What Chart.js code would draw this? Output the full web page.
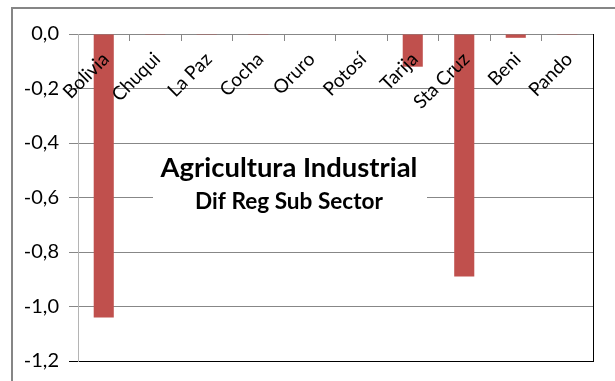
<!DOCTYPE html>
<html>
<head>
<meta charset="utf-8">
<script src="https://cdn.jsdelivr.net/npm/chart.js@4.4.0/dist/chart.umd.min.js"></script>
<style>
    html, body { margin: 0; padding: 0; background: #fff; }
    #wrap { position: relative; width: 615px; height: 381px; overflow: hidden; }
    #marco { position: absolute; left: 11px; top: 7px; width: 700px; height: 500px; border-left: 2px solid #868686; border-top: 2px solid #868686; }
    #myChart { position: absolute; left: 0; top: 0; }
</style>
</head>
<body>
<div id="wrap">
    <div id="marco"></div>
    <canvas id="myChart" width="615" height="381"></canvas>
</div>
<script>
// datos
const regiones = ['Bolivia', 'Chuqui', 'La Paz', 'Cocha', 'Oruro', 'Potosí', 'Tarija', 'Sta Cruz', 'Beni', 'Pando'];
const difRegional = [-1.04, -0.003, -0.003, -0.003, 0, 0, -0.12, -0.89, -0.014, -0.003];
const yMin = -1.2;
const yMax = 0;
const yPaso = 0.2;
const titulo = 'Agricultura Industrial';
const subtitulo = 'Dif Reg Sub Sector';

const fuente = 'Lato, "Open Sans", sans-serif';

// ajusta el tamaño de fuente para que el texto ocupe un ancho dado
function fuenteAjustada(ctx, texto, ancho, peso) {
    ctx.font = peso + ' 20px ' + fuente;
    let w = ctx.measureText(texto).width;
    return peso + ' ' + (20 * ancho / w).toFixed(1) + 'px ' + fuente;
}

const tituloPlugin = {
    id: 'tituloInterno',
    afterDraw: function(chart) {
        const ctx = chart.ctx;
        const area = chart.chartArea;
        ctx.save();
        // borde derecho negro del area de trazado
        ctx.strokeStyle = '#000';
        ctx.lineWidth = 1;
        ctx.beginPath();
        ctx.moveTo(Math.round(area.right) + 0.5, area.top);
        ctx.lineTo(Math.round(area.right) + 0.5, area.bottom + 1);
        ctx.stroke();
        // caja blanca del titulo
        ctx.fillStyle = '#fff';
        ctx.fillRect(153, 152, 274, 64);
        ctx.fillStyle = '#000';
        ctx.textAlign = 'center';
        ctx.textBaseline = 'alphabetic';
        ctx.font = fuenteAjustada(ctx, titulo, 257, 'bold');
        ctx.fillText(titulo, 289, 177);
        ctx.font = fuenteAjustada(ctx, subtitulo, 188, 'bold');
        ctx.fillText(subtitulo, 289, 209);
        ctx.restore();
    }
};

const data = {
    labels: regiones,
    datasets: [{
        label: 'Dif Reg Sub Sector',
        backgroundColor: '#C0504D',
        borderWidth: 0,
        data: difRegional,
        categoryPercentage: 1,
        barPercentage: 0.39
    }]
};

const config = {
    type: 'bar',
    data: data,
    options: {
        responsive: false,
        animation: false,
        layout: { padding: { top: 34, bottom: 20, left: 0, right: 22 } },
        plugins: {
            legend: { display: false },
            tooltip: { enabled: false }
        },
        scales: {
            x: {
                type: 'category',
                axis: 'x',
                position: { y: 0 },
                grid: {
                    offset: true,
                    drawOnChartArea: false,
                    drawTicks: true,
                    tickLength: 6,
                    color: '#878787'
                },
                border: { color: '#878787' },
                ticks: {
                    z: 1,
                    autoSkip: false,
                    minRotation: 45,
                    maxRotation: 45,
                    padding: 8,
                    labelOffset: 2,
                    color: '#000',
                    font: { family: fuente, size: 19 }
                }
            },
            y: {
                min: yMin,
                max: yMax,
                afterFit: function(scale) {
                    scale.width = 78;
                    scale.paddingTop = 0;
                    scale.paddingBottom = 0;
                },
                grid: {
                    color: function(c) { return c.tick && c.tick.value <= yMin + 0.001 ? '#000' : '#878787'; },
                    tickLength: 9
                },
                border: { color: '#b4b4b4' },
                ticks: {
                    stepSize: yPaso,
                    padding: 10,
                    color: '#000',
                    font: { family: fuente, size: 20 },
                    callback: function(v) { return v.toFixed(1).replace('.', ','); }
                }
            }
        }
    },
    plugins: [tituloPlugin]
};

const myChart = new Chart(document.getElementById('myChart'), config);
</script>
</body>
</html>
